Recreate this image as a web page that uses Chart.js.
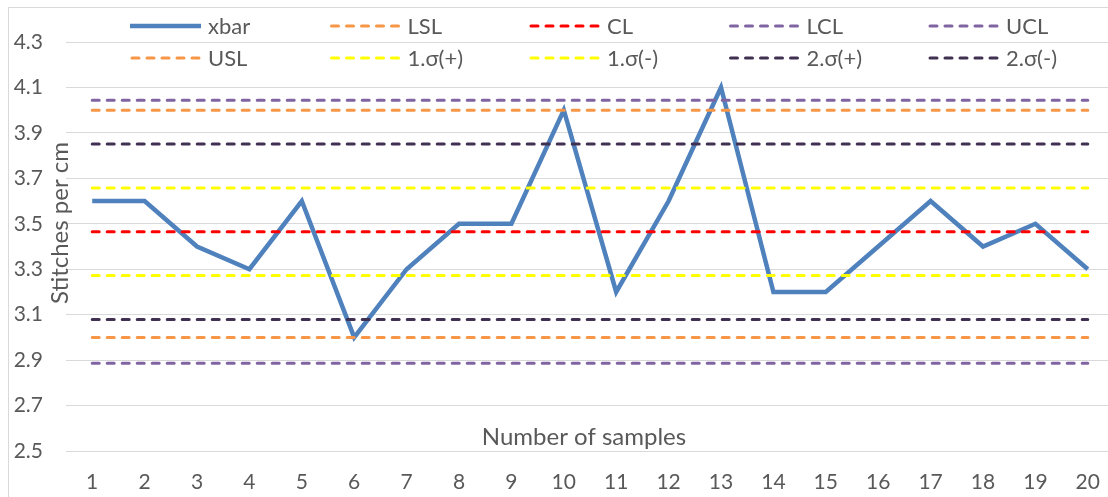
<!DOCTYPE html>
<html>
<head>
<meta charset="utf-8">
<script src="https://cdn.jsdelivr.net/npm/chart.js@4.4.1/dist/chart.umd.min.js"></script>
<style>
  html, body { margin: 0; padding: 0; background: #fff; overflow: hidden; width: 1108px; height: 497px; }
  #wrap { position: absolute; left: 0; top: 0; width: 1120px; height: 497px; }
  #frame { position: absolute; left: 8px; top: 7px; width: 1200px; height: 600px; border: 1px solid #d9d9d9; box-sizing: border-box; pointer-events: none; }
</style>
</head>
<body>
<div id="wrap"><canvas id="c"></canvas></div>
<div id="frame"></div>
<script>
// ---- data ----
const categories = ['1','2','3','4','5','6','7','8','9','10','11','12','13','14','15','16','17','18','19','20'];
const xbar = [3.6, 3.6, 3.4, 3.3, 3.6, 3.0, 3.3, 3.5, 3.5, 4.0, 3.2, 3.6, 4.1, 3.2, 3.2, 3.4, 3.6, 3.4, 3.5, 3.3];
const LSL = 3.0;
const CL = 3.465;
const LCL = 2.886;
const UCL = 4.044;
const USL = 4.0;
const sigma1Plus = 3.658;
const sigma1Minus = 3.272;
const sigma2Plus = 3.851;
const sigma2Minus = 3.079;
const yTicks = [2.5, 2.7, 2.9, 3.1, 3.3, 3.5, 3.7, 3.9, 4.1, 4.3];
const seriesNames = ['xbar', 'LSL', 'CL', 'LCL', 'UCL', 'USL', '1.σ(+)', '1.σ(-)', '2.σ(+)', '2.σ(-)'];
const xTitle = 'Number of samples';
const yTitle = 'Stitches per cm';

const constant = v => categories.map(() => v);
const FONT = 'Lato, "Open Sans", sans-serif';
const TXT = '#595959';

function dashed(label, value, color) {
  return {
    label, data: constant(value), borderColor: color, backgroundColor: color,
    borderWidth: 3, borderDash: [7, 8], borderCapStyle: 'round',
    pointRadius: 0, tension: 0, fill: false, order: 0
  };
}

const datasets = [
  { label: seriesNames[0], data: xbar, borderColor: '#4F81BD', backgroundColor: '#4F81BD',
    borderWidth: 4.5, pointRadius: 0, tension: 0, fill: false, order: 1, borderJoinStyle: 'miter' },
  dashed(seriesNames[1], LSL, '#F79646'),
  dashed(seriesNames[2], CL, '#FF0000'),
  dashed(seriesNames[3], LCL, '#8064A2'),
  dashed(seriesNames[4], UCL, '#8064A2'),
  dashed(seriesNames[5], USL, '#F79646'),
  dashed(seriesNames[6], sigma1Plus, '#FFFF00'),
  dashed(seriesNames[7], sigma1Minus, '#FFFF00'),
  dashed(seriesNames[8], sigma2Plus, '#403152'),
  dashed(seriesNames[9], sigma2Minus, '#403152')
];

const extras = {
  id: 'extras',
  afterDraw(chart) {
    const ctx = chart.ctx;
    ctx.save();
    // legend
    ctx.font = '22px ' + FONT;
    ctx.textBaseline = 'middle';
    ctx.textAlign = 'left';
    chart.data.datasets.forEach((ds, i) => {
      const col = i % 5, row = Math.floor(i / 5);
      const x0 = 130 + col * 199.5;
      const y = row === 0 ? 26 : 58;
      ctx.save();
      ctx.strokeStyle = ds.borderColor;
      ctx.lineWidth = ds.borderWidth;
      if (ds.borderDash) { ctx.setLineDash(ds.borderDash); ctx.lineCap = 'round'; }
      ctx.beginPath();
      ctx.moveTo(x0 + (ds.borderDash ? 2 : 0), y);
      ctx.lineTo(x0 + 71, y);
      ctx.stroke();
      ctx.restore();
      ctx.fillStyle = TXT;
      ctx.fillText(ds.label, x0 + 78, y + 1);
    });
    // x title inside plot
    ctx.font = '24px ' + FONT;
    ctx.textAlign = 'center';
    ctx.fillStyle = TXT;
    ctx.fillText(xTitle, 584, 437);
    // y title
    ctx.translate(60, 223);
    ctx.rotate(-Math.PI / 2);
    ctx.fillText(yTitle, 0, 0);
    ctx.restore();
  }
};

new Chart(document.getElementById('c'), {
  type: 'line',
  data: { labels: categories, datasets },
  options: {
    responsive: true,
    maintainAspectRatio: false,
    animation: false,
    layout: { padding: { top: 42, right: 6, left: 0, bottom: 0 } },
    plugins: { legend: { display: false }, tooltip: { enabled: false } },
    scales: {
      x: {
        offset: true,
        grid: { display: false, drawTicks: false },
        border: { display: false },
        ticks: { color: TXT, font: { family: FONT, size: 21 }, padding: 19, maxRotation: 0, autoSkip: false },
        afterFit(s) { s.height = 46; }
      },
      y: {
        min: 2.5, max: 4.3,
        afterBuildTicks(s) { s.ticks = yTicks.map(v => ({ value: v })); },
        grid: { color: '#d9d9d9', lineWidth: 1, drawTicks: false },
        border: { display: false },
        ticks: { color: TXT, font: { family: FONT, size: 21 }, padding: 23, callback: v => v.toFixed(1) },
        afterFit(s) { s.width = 66; }
      }
    }
  },
  plugins: [extras]
});
</script>
</body>
</html>
